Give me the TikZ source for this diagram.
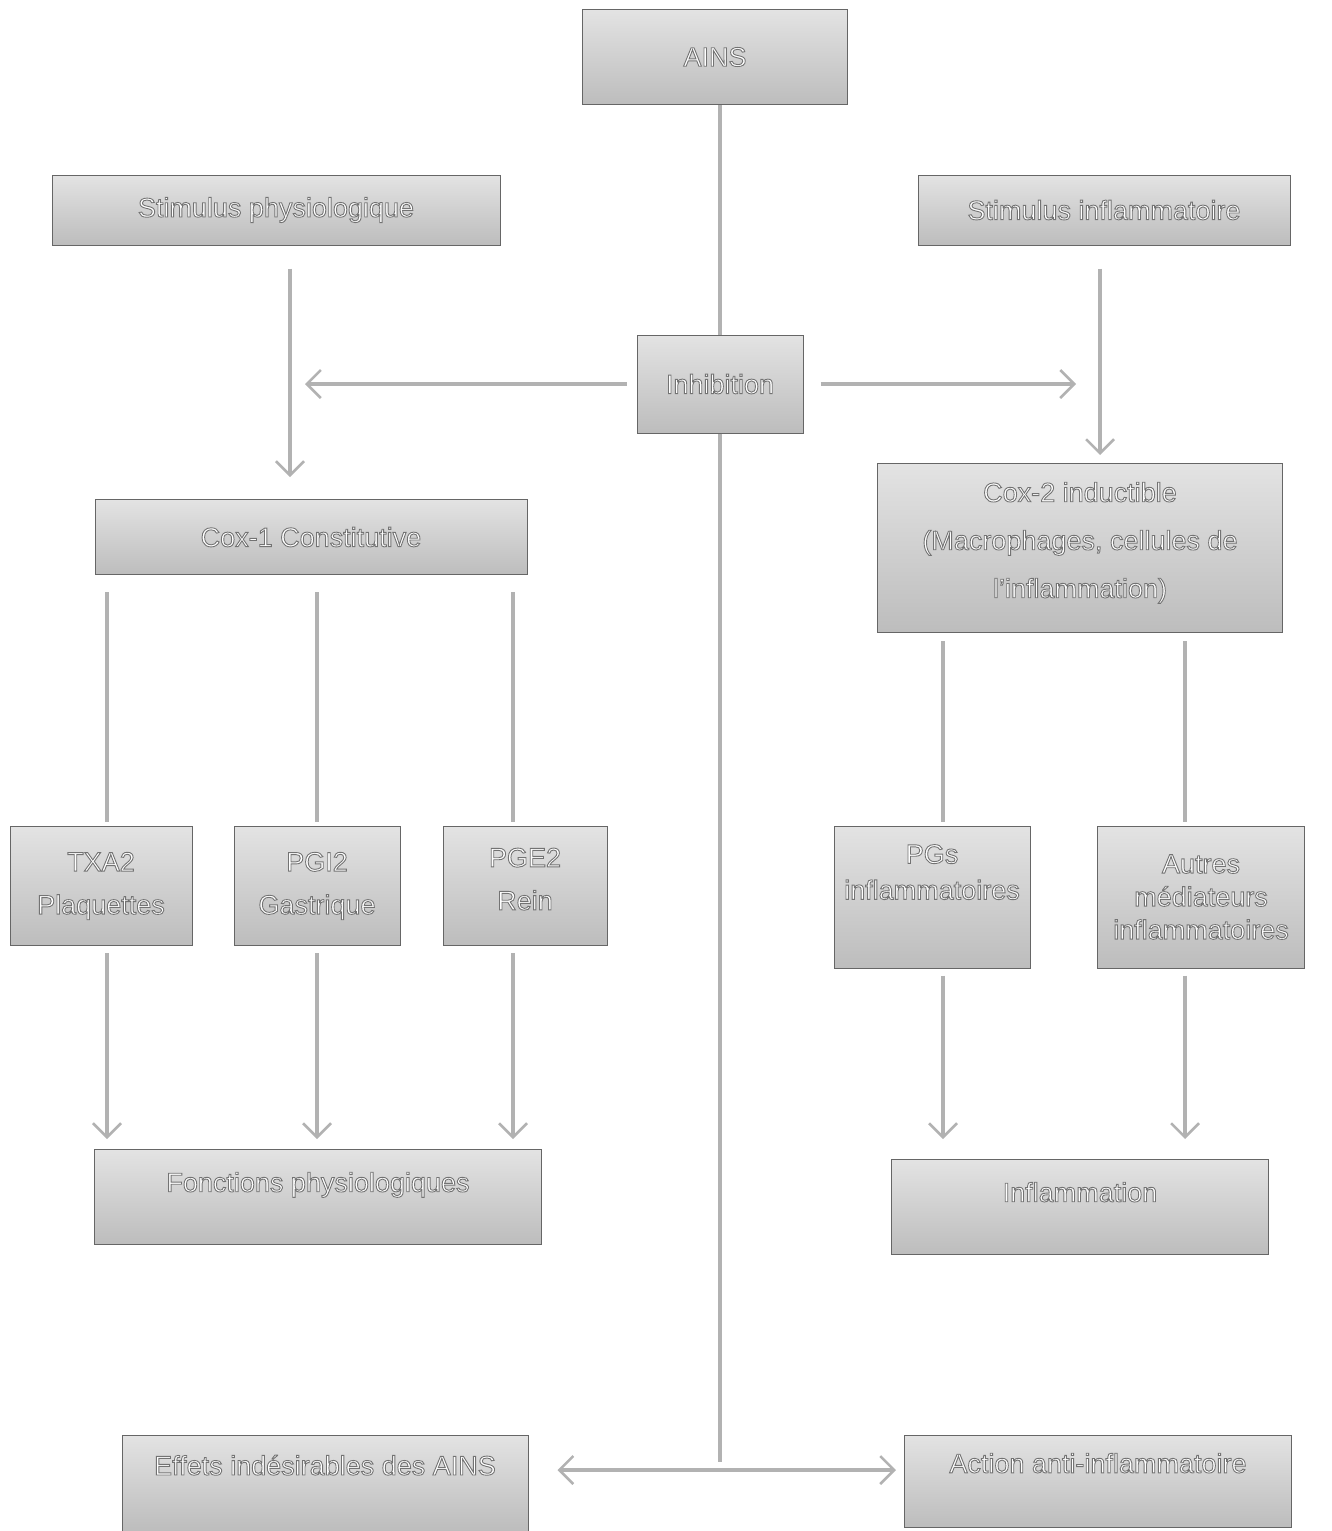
\documentclass[tikz,border=0pt]{standalone}
\usepackage{fontspec}
\setmainfont{Liberation Sans}
\usetikzlibrary{arrows.meta}
\newcommand\outl[1]{\special{pdf:literal direct 2 Tr 0.9 w 0.45 0.45 0.45 RG}#1\special{pdf:literal direct 0 Tr}}
\tikzset{
  boxnode/.style={draw=gray!80!black,line width=1pt,top color=gray!22,bottom color=gray!52,
    shading angle=0,text=white,align=center,inner sep=2pt,
    font=\fontsize{27}{38}\selectfont},
  link/.style={draw=gray!60,line width=4pt},
  arrowlink/.style={link,-{Straight Barb[length=14pt,width=28pt,line width=2.5pt]}},
  twoway/.style={link,{Straight Barb[length=14pt,width=28pt,line width=2.5pt]}-{Straight Barb[length=14pt,width=28pt,line width=2.5pt]}}
}
\begin{document}
\begin{tikzpicture}[x=1pt,y=-1pt]
\useasboundingbox (0,0) rectangle (1332,1531);
\begin{scope}[every node/.style={boxnode}]
\node[minimum width=265pt,minimum height=95pt] (ains) at (715,57) {\outl{AINS}};
\node[minimum width=448pt,minimum height=70pt] (stimp) at (276,210) {\outl{Stimulus physiologique}};
\node[minimum width=372pt,minimum height=70pt] (stimi) at (1104,210) {\outl{Stimulus inflammatoire}};
\node[minimum width=166pt,minimum height=98pt] (inhib) at (720,384) {\outl{Inhibition}};
\node[minimum width=432pt,minimum height=75pt] (cox1) at (311,537) {\outl{Cox-1 Constitutive}};
\node[minimum width=405pt,minimum height=169pt,font=\fontsize{27}{48}\selectfont,text depth=16pt] (cox2) at (1080,548) {\outl{Cox-2 inductible}\\\outl{(Macrophages, cellules de}\\\outl{l'inflammation)}};
\node[minimum width=182pt,minimum height=119pt,font=\fontsize{27}{43}\selectfont] (txa) at (101,886) {\outl{TXA2}\\\outl{Plaquettes}};
\node[minimum width=166pt,minimum height=119pt,font=\fontsize{27}{43}\selectfont] (pgi) at (317,886) {\outl{PGI2}\\\outl{Gastrique}};
\node[minimum width=164pt,minimum height=119pt,font=\fontsize{27}{43}\selectfont,text depth=14pt] (pge) at (525,886) {\outl{PGE2}\\\outl{Rein}};
\node[minimum width=196pt,minimum height=142pt,font=\fontsize{27}{36}\selectfont,text depth=50pt] (pgs) at (932,897) {\outl{PGs}\\\outl{inflammatoires}};
\node[minimum width=207pt,minimum height=142pt,font=\fontsize{27}{33}\selectfont] (autres) at (1201,897) {\outl{Autres}\\\outl{médiateurs}\\\outl{inflammatoires}};
\node[minimum width=447pt,minimum height=95pt,text depth=30pt] (fonct) at (318,1197) {\outl{Fonctions physiologiques}};
\node[minimum width=377pt,minimum height=95pt,text depth=30pt] (infl) at (1080,1207) {\outl{Inflammation}};
\node[minimum width=406pt,minimum height=96pt,text depth=36pt] (effets) at (325,1483) {\outl{Effets indésirables des AINS}};
\node[minimum width=387pt,minimum height=92pt,text depth=36pt] (action) at (1098,1481) {\outl{Action anti-inflammatoire}};
\end{scope}
\coordinate (junc) at (720,1462);
\coordinate (ends) at (720,1470);
\begin{scope}
% central axis
\draw[link] (inhib.north |- ains.south) -- (inhib.north);
\draw[link] (inhib) -- (junc);
\draw[twoway,shorten <=29pt,shorten >=8pt] (effets.east |- ends) -- (action.west |- ends);
% inhibition both ways
\draw[arrowlink,shorten <=10pt] (inhib.west) -- ([xshift=-6pt]cox1.north |- inhib.west);
\draw[arrowlink,shorten <=17pt] (inhib.east) -- ([xshift=-4pt]cox2.north |- inhib.east);
% stimuli
\draw[arrowlink,shorten <=23pt,shorten >=22pt] ([xshift=14pt]stimp.south) -- ([xshift=14pt]stimp.south |- cox1.north);
\draw[arrowlink,shorten <=23pt,shorten >=8pt] ([xshift=-4pt]stimi.south) -- ([xshift=-4pt]stimi.south |- cox2.north);
% cox-1 branches
\draw[link,shorten <=17pt,shorten >=4pt] ([xshift=6pt]txa.north |- cox1.south) -- ([xshift=6pt]txa.north);
\draw[link,shorten <=17pt,shorten >=4pt] (pgi.north |- cox1.south) -- (pgi.north);
\draw[link,shorten <=17pt,shorten >=4pt] ([xshift=-12pt]pge.north |- cox1.south) -- ([xshift=-12pt]pge.north);
\draw[arrowlink,shorten <=7pt,shorten >=10pt] ([xshift=6pt]txa.south) -- ([xshift=6pt]txa.south |- fonct.north);
\draw[arrowlink,shorten <=7pt,shorten >=10pt] (pgi.south) -- (pgi.south |- fonct.north);
\draw[arrowlink,shorten <=7pt,shorten >=10pt] ([xshift=-12pt]pge.south) -- ([xshift=-12pt]pge.south |- fonct.north);
% cox-2 branches
\draw[link,shorten <=8pt,shorten >=4pt] ([xshift=11pt]pgs.north |- cox2.south) -- ([xshift=11pt]pgs.north);
\draw[link,shorten <=8pt,shorten >=4pt] ([xshift=-16pt]autres.north |- cox2.south) -- ([xshift=-16pt]autres.north);
\draw[arrowlink,shorten <=7pt,shorten >=20pt] ([xshift=11pt]pgs.south) -- ([xshift=11pt]pgs.south |- infl.north);
\draw[arrowlink,shorten <=7pt,shorten >=20pt] ([xshift=-16pt]autres.south) -- ([xshift=-16pt]autres.south |- infl.north);
\end{scope}
\end{tikzpicture}
\end{document}
